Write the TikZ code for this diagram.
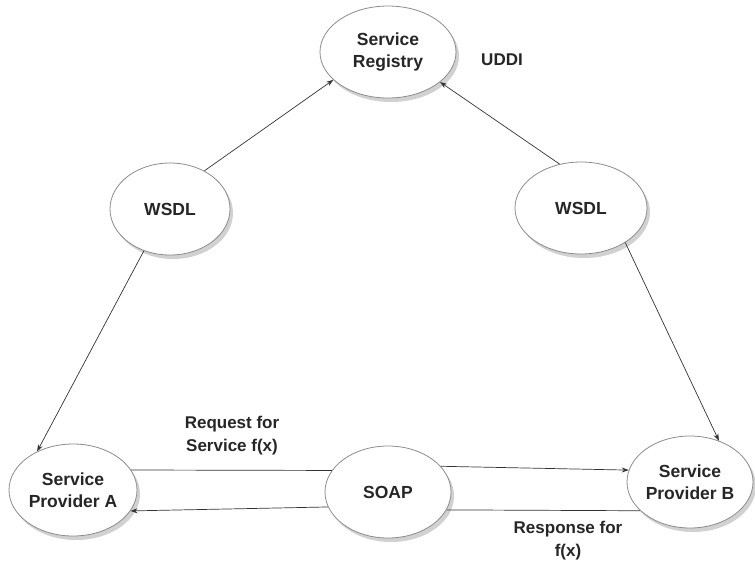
\documentclass[tikz,border=0pt]{standalone}
\usepackage{fontspec}
\setmainfont{Liberation Sans}
\usetikzlibrary{shapes.geometric,arrows.meta,shadows}
\begin{document}
\begin{tikzpicture}[x=1pt,y=-1pt,
  bub/.style={ellipse,draw=black!45,line width=0.8pt,fill=white,inner sep=0pt,
    drop shadow={shadow xshift=3pt,shadow yshift=-4pt,opacity=0.3,fill=black!60},
    font=\fontsize{17.5}{22}\selectfont\bfseries,text=black!85,align=center},
  lbl/.style={font=\fontsize{17}{23}\selectfont\bfseries,text=black!85,align=center},
  conn/.style={draw=black!80,line width=0.7pt},
  arr/.style={conn,-{Stealth[length=7pt,width=5pt]}}]
\useasboundingbox (0,0) rectangle (755,566);
\node[bub,minimum width=136pt,minimum height=92pt] (reg) at (388,52) {Service\\Registry};
\node[bub,minimum width=120pt,minimum height=92pt] (wl) at (170,209) {WSDL};
\node[bub,minimum width=132pt,minimum height=92pt] (wr) at (581,208) {WSDL};
\node[bub,minimum width=128pt,minimum height=92pt] (pa) at (73,490) {Service\\Provider A};
\node[bub,minimum width=126pt,minimum height=92pt] (soap) at (388,492) {SOAP};
\node[bub,minimum width=126pt,minimum height=92pt] (pb) at (690,482) {Service\\Provider B};
\node[lbl] (uddi) at (502,60) {UDDI};
\node[lbl] (req) at (232,436) {Request for\\Service f(x)};
\node[lbl] (resp) at (568,541) {Response for\\f(x)};
\draw[arr] (wl.48) -- (reg.207);
\draw[arr] (wr.116) -- (reg.330);
\draw[arr] (wl.238) -- (pa.133);
\draw[arr] (wr.322) -- (pb.55);
\draw[conn] (pa.19) -- (soap.159);
\draw[arr] (soap.26) -- (pb.169);
\draw[conn] (pb.210) -- (soap.343);
\draw[arr] (soap.194) -- (pa.340);
\end{tikzpicture}
\end{document}
